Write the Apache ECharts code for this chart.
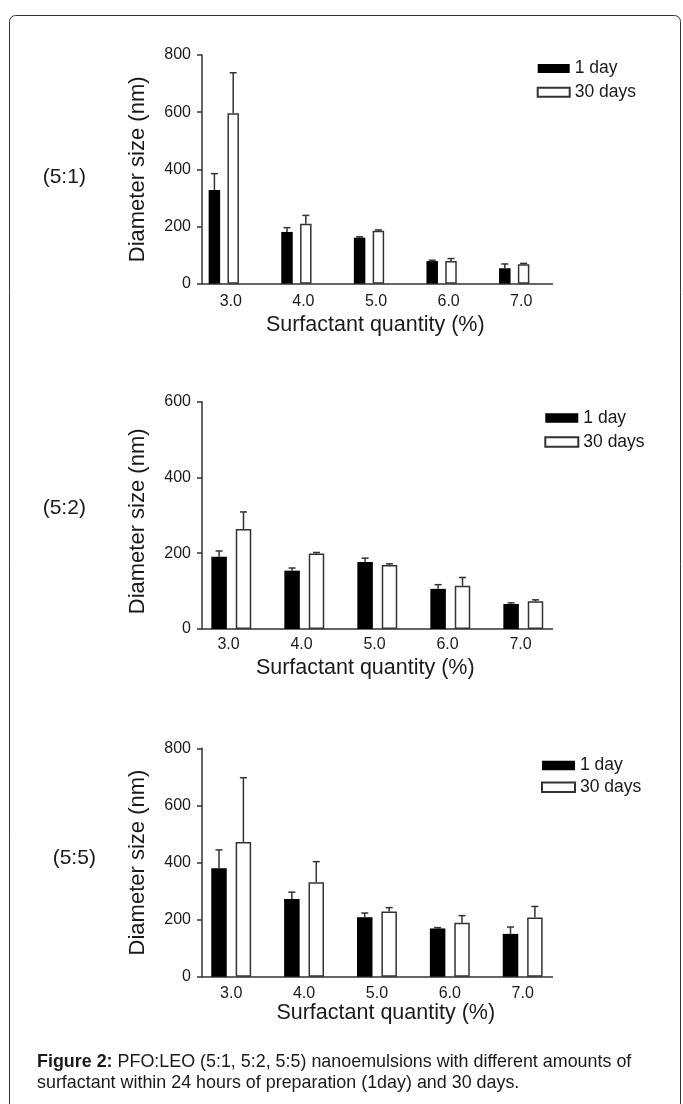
<!DOCTYPE html>
<html><head><meta charset="utf-8">
<script src="https://cdn.jsdelivr.net/npm/echarts@6/dist/echarts.min.js"></script>
<style>html,body{margin:0;padding:0;background:#fff}#c{width:683px;height:1104px}</style>
</head><body><div id="c"></div>
<script>
// ---- data ----
const quantities = [3, 4, 5, 6, 7];
const quantityLabels = ['3.0', '4.0', '5.0', '6.0', '7.0'];
const seriesNames = ['1 day', '30 days'];
const panelLabels = ['(5:1)', '(5:2)', '(5:5)'];
const yMaxes = [800, 600, 800];
const yStep = 200;

const day1_51 = [328, 181, 161, 79, 54];
const day1_51_sd = [57, 15, 3, 3, 15];
const day30_51 = [596, 210, 185, 79, 68];
const day30_51_sd = [142, 29, 3, 9, 3];

const day1_52 = [191, 154, 177, 106, 66];
const day1_52_sd = [15, 7, 10, 11, 3];
const day30_52 = [264, 199, 169, 114, 73];
const day30_52_sd = [45, 3, 3, 22, 4];

const day1_55 = [380, 272, 208, 169, 150];
const day1_55_sd = [64, 24, 15, 3, 24];
const day30_55 = [472, 331, 228, 189, 207];
const day30_55_sd = [225, 72, 14, 25, 39];

const panelData = [
  [day1_51, day1_51_sd, day30_51, day30_51_sd],
  [day1_52, day1_52_sd, day30_52, day30_52_sd],
  [day1_55, day1_55_sd, day30_55, day30_55_sd]
];

// ---- layout / style ----
const FONT = '"Liberation Sans", Arial, Helvetica, sans-serif';
const INK = '#1a1a1a';
const AXIS = '#333';
const layout = [
  {top: 55, height: 228.7, xmin: 2.6997, xmax: 7.5275, bw: 11.5, gap: 7.3, lblPad: [0,0,0,14], lblMargin: 10,
   nameGap: 30, xNamePad: [0,4,0,0], yNamePad: [0,0,0,0],
   legend: {left: 536.7, top: 59.5, iw: 32, ih: 9, gap: 0.3, shift: 11},
   title: {left: 42.7, top: 166.8}},
  {top: 401.7, height: 227.3, xmin: 2.5986, xmax: 7.4, bw: 15.5, gap: 8.9, lblPad: [0,5.6,0,0], lblMargin: 8,
   nameGap: 28.3, xNamePad: [0,24,0,0], yNamePad: [0,12,0,0],
   legend: {left: 544.3, top: 409, iw: 33, ih: 9.5, gap: 1.9, shift: 8},
   title: {left: 42.7, top: 497.8}},
  {top: 748.3, height: 228.4, xmin: 2.5993, xmax: 7.409, bw: 15.5, gap: 8.9, lblPad: [0,0,0,0], lblMargin: 8.6,
   nameGap: 20.6, xNamePad: [0,0,0,17], yNamePad: [0,0,0,0],
   legend: {left: 541, top: 756.4, iw: 33, ih: 9.5, gap: 2.4, shift: 3},
   title: {left: 52.7, top: 847.8}}
];

const grids = [], xAxes = [], yAxes = [], series = [], legends = [], titles = [];

layout.forEach((L, p) => {
  grids.push({left: 202, width: 350.5, top: L.top, height: L.height});
  xAxes.push({
    type: 'value', gridIndex: p, min: L.xmin, max: L.xmax,
    axisLine: {show: true, lineStyle: {color: AXIS, width: 1.5}},
    axisTick: {show: false},
    splitLine: {show: false},
    axisLabel: {
      customValues: quantities, fontSize: 16, color: INK, fontFamily: FONT,
      margin: L.lblMargin, padding: L.lblPad,
      formatter: v => quantityLabels[quantities.indexOf(Math.round(v))]
    },
    name: 'Surfactant quantity (%)', nameLocation: 'middle', nameGap: L.nameGap,
    nameTextStyle: {fontSize: 21.5, color: INK, fontFamily: FONT, padding: L.xNamePad}
  });
  yAxes.push({
    type: 'value', gridIndex: p, min: 0, max: yMaxes[p], interval: yStep,
    axisLine: {show: true, lineStyle: {color: AXIS, width: 1.5}},
    axisTick: {show: true, inside: false, length: 5, lineStyle: {color: AXIS, width: 1.5}},
    splitLine: {show: false},
    axisLabel: {fontSize: 16, color: INK, fontFamily: FONT, margin: 11},
    name: 'Diameter size (nm)', nameLocation: 'middle', nameGap: 53,
    nameTextStyle: {fontSize: 22, color: INK, fontFamily: FONT, padding: L.yNamePad}
  });

  const [v1, s1, v30, s30] = panelData[p];
  const gapPct = (L.gap / L.bw * 100).toFixed(1) + '%';
  const half = (L.bw + L.gap) / 2;
  const styles = [
    {color: '#000'},
    {color: '#fff', borderColor: AXIS, borderWidth: 1.5}
  ];
  [[v1, s1], [v30, s30]].forEach(([vals, sds], k) => {
    series.push({
      type: 'bar', name: seriesNames[k], xAxisIndex: p, yAxisIndex: p,
      barWidth: L.bw, barGap: gapPct,
      itemStyle: styles[k], z: 3,
      data: quantities.map((q, i) => [q, vals[i]])
    });
  });
  [[v1, s1], [v30, s30]].forEach(([vals, sds], k) => {
    const off = k === 0 ? -half : half;
    series.push({
      type: 'custom', xAxisIndex: p, yAxisIndex: p, z: 2, silent: true,
      encode: {x: 0, y: 1},
      data: quantities.map((q, i) => [q, vals[i], vals[i] + sds[i]]),
      renderItem(params, api) {
        const x = api.value(0);
        const b = api.coord([x, api.value(1)]);
        const t = api.coord([x, api.value(2)]);
        const cx = b[0] + off;
        const st = {stroke: AXIS, lineWidth: 1.5};
        return {type: 'group', children: [
          {type: 'line', shape: {x1: cx, y1: b[1], x2: cx, y2: t[1]}, style: st},
          {type: 'line', shape: {x1: cx - 3.5, y1: t[1], x2: cx + 3.5, y2: t[1]}, style: st}
        ]};
      }
    });
  });

  const G = L.legend;
  legends.push({
    left: G.left, top: G.top, orient: 'vertical', padding: 0,
    itemWidth: G.iw, itemHeight: G.ih, itemGap: G.gap, selectedMode: false,
    textStyle: {fontSize: 17.5, color: INK, fontFamily: FONT, lineHeight: 18},
    data: [
      {name: seriesNames[0], icon: 'rect'},
      {name: seriesNames[1], icon: 'rect', textStyle: {padding: [0, 0, G.shift, 0]}}
    ]
  });
  titles.push({
    text: panelLabels[p], left: L.title.left, top: L.title.top, padding: 0,
    textStyle: {fontSize: 21, fontWeight: 'normal', color: INK, fontFamily: FONT, lineHeight: 21}
  });
});

const chart = echarts.init(document.getElementById('c'), null, {renderer: 'canvas'});
chart.setOption({
  animation: false,
  backgroundColor: '#fff',
  textStyle: {fontFamily: FONT},
  title: titles,
  legend: legends,
  grid: grids,
  xAxis: xAxes,
  yAxis: yAxes,
  series: series,
  graphic: [
    {type: 'rect', silent: true, shape: {x: 9.5, y: 15.5, width: 671, height: 1120, r: 6},
     style: {fill: 'none', stroke: '#333', lineWidth: 1}},
    {type: 'text', x: 37, y: 1062, silent: true,
     style: {text: '{b|Figure 2:} PFO:LEO (5:1, 5:2, 5:5) nanoemulsions with different amounts of',
             fontSize: 17.9, fontFamily: FONT, fill: INK, verticalAlign: 'middle',
             rich: {b: {fontWeight: 'bold', fontSize: 17.9, fontFamily: FONT, fill: INK}}}},
    {type: 'text', x: 37, y: 1083, silent: true,
     style: {text: 'surfactant within 24 hours of preparation (1day) and 30 days.',
             fontSize: 17.9, fontFamily: FONT, fill: INK, verticalAlign: 'middle'}}
  ]
});
</script></body></html>
